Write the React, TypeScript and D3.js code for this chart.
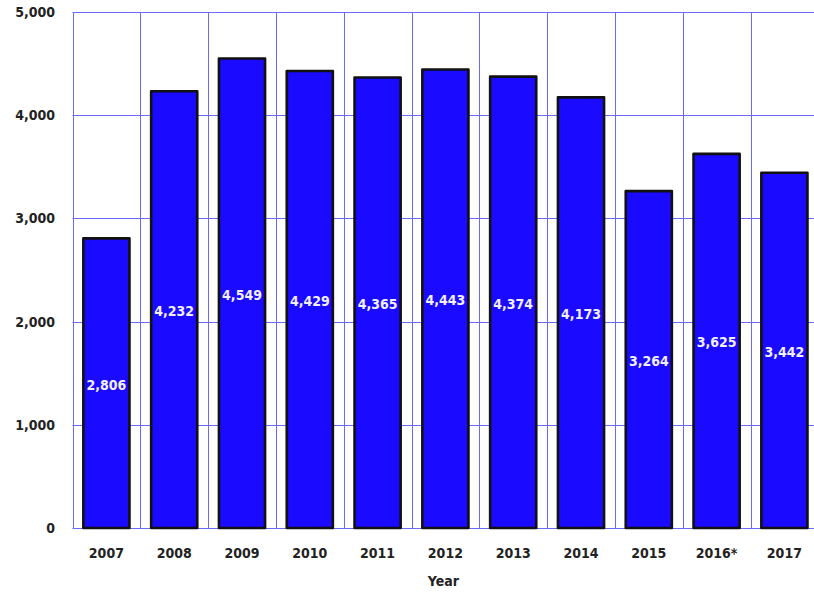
import React from "react";
import * as d3 from "d3";

const years = ["2007", "2008", "2009", "2010", "2011", "2012", "2013", "2014", "2015", "2016*", "2017"];
const values = [2806, 4232, 4549, 4429, 4365, 4443, 4374, 4173, 3264, 3625, 3442];
const yTicks = [0, 1000, 2000, 3000, 4000, 5000];
const xTitle = "Year";

const W = 814;
const H = 592;
const left = 72.5;
const top = 12;
const bottom = 528;
const step = 67.8;
const right = left + step * years.length;

export default function App() {
  const x = d3.scaleBand<string>().domain(years).range([left, right]).paddingInner(0.32).paddingOuter(0.16);
  const y = d3.scaleLinear().domain([0, 5000]).range([bottom, top]);
  const fmt = d3.format(",");
  const font = "'DejaVu Sans Condensed', 'DejaVu Sans', sans-serif";
  const grid = "#6a6aff";

  return (
    <svg width={W} height={H} style={{ position: "absolute", left: 0, top: 0 }} fontFamily={font}>
      <rect x={0} y={0} width={W} height={H} fill="#ffffff" />
      {/* horizontal gridlines */}
      {yTicks.map((t) => (
        <line key={"h" + t} x1={left} x2={right} y1={Math.round(y(t)) + 0.5} y2={Math.round(y(t)) + 0.5} stroke={grid} strokeWidth={1} />
      ))}
      {/* vertical gridlines at category boundaries */}
      {years.map((yr, i) => {
        const gx = Math.round(left + i * step) + 0.5;
        return <line key={"v" + yr} x1={gx} x2={gx} y1={top} y2={bottom} stroke={grid} strokeWidth={1} />;
      })}
      {/* bars */}
      {years.map((yr, i) => (
        <rect
          key={"b" + yr}
          x={x(yr)!}
          y={y(values[i])}
          width={x.bandwidth()}
          height={bottom - y(values[i])}
          fill="#1a0aff"
          stroke="#111"
          strokeWidth={2.6}
          strokeLinejoin="round"
        />
      ))}
      {/* value labels */}
      {years.map((yr, i) => (
        <text
          key={"l" + yr}
          x={x(yr)! + x.bandwidth() / 2}
          y={(y(values[i]) + bottom) / 2 + 1.5}
          dy="0.35em"
          textAnchor="middle"
          fill="#f2f0ff"
          fontWeight="bold"
          fontSize={14}
        >
          {fmt(values[i])}
        </text>
      ))}
      {/* y tick labels */}
      {yTicks.map((t) => (
        <text key={"t" + t} x={55} y={y(t)} dy="0.35em" textAnchor="end" fontWeight="bold" fontSize={14} fill="#222">
          {fmt(t)}
        </text>
      ))}
      {/* x tick labels */}
      {years.map((yr) => (
        <text key={"x" + yr} x={x(yr)! + x.bandwidth() / 2} y={558} textAnchor="middle" fontWeight="bold" fontSize={14} fill="#222">
          {yr}
        </text>
      ))}
      <text x={(left + right) / 2 - 2} y={586} textAnchor="middle" fontWeight="bold" fontSize={14} fill="#222">
        {xTitle}
      </text>
    </svg>
  );
}
